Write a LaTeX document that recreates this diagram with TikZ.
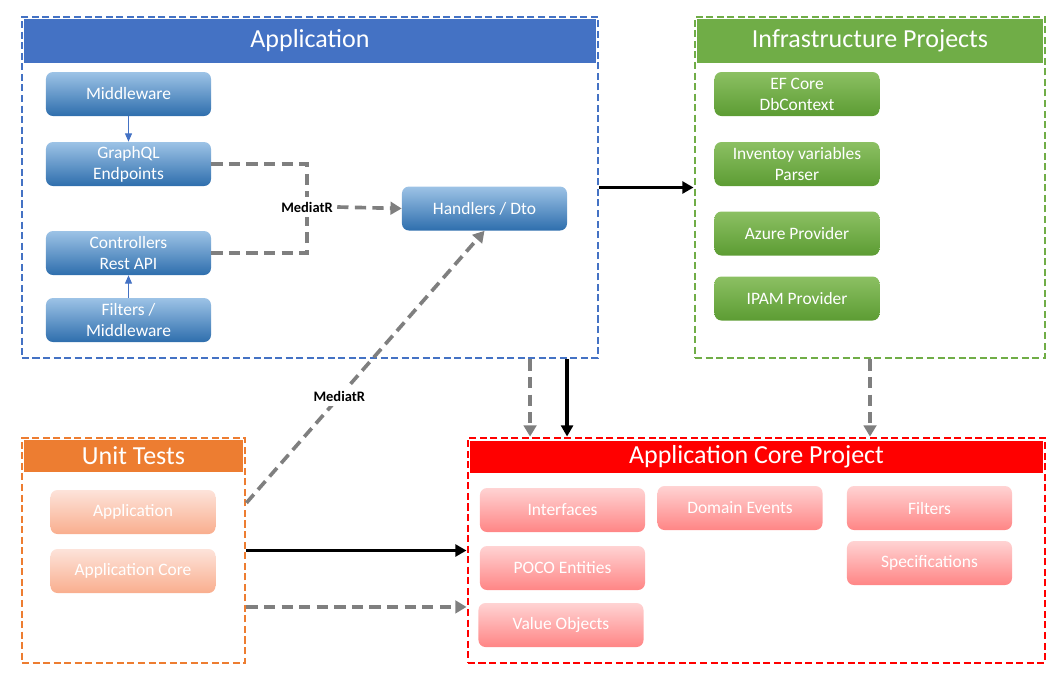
\documentclass[tikz,border=0pt]{standalone}
\usepackage{fontspec}
\setmainfont{Carlito}
\usetikzlibrary{arrows.meta, positioning}

\definecolor{appblue}{HTML}{4472C4}
\definecolor{bluetop}{HTML}{9DC3E6}
\definecolor{bluebot}{HTML}{2E6EAD}
\definecolor{infgreen}{HTML}{70AD47}
\definecolor{greentop}{HTML}{8CC063}
\definecolor{greenbot}{HTML}{5C9C33}
\definecolor{utorange}{HTML}{ED7D31}
\definecolor{peachtop}{HTML}{FDE3DA}
\definecolor{peachbot}{HTML}{F9AE8E}
\definecolor{corered}{HTML}{FF0000}
\definecolor{pinktop}{HTML}{FFD3D3}
\definecolor{pinkbot}{HTML}{FF8585}
\definecolor{linkgray}{HTML}{7F7F7F}

\begin{document}
\begin{tikzpicture}[x=0.025cm, y=-0.025cm,
    % Styles for frames, header bars and boxes
    frame/.style={rectangle, dash pattern=on 5pt off 2.5pt, line width=2pt, inner sep=0pt},
    headbar/.style={rectangle, inner sep=0pt, text=white, font=\fontsize{18.5}{21}\selectfont},
    box/.style={rectangle, rounded corners=5pt, align=center, text=white, minimum width=4.125cm, minimum height=1.1cm, inner sep=1pt, font=\fontsize{12.4}{14.8}\selectfont},
    bluebox/.style={box, top color=bluetop, bottom color=bluebot},
    greenbox/.style={box, top color=greentop, bottom color=greenbot},
    peachbox/.style={box, top color=peachtop, bottom color=peachbot},
    pinkbox/.style={box, top color=pinktop, bottom color=pinkbot},
    medlabel/.style={fill=white, inner sep=3pt, font=\fontsize{10.3}{12}\selectfont\bfseries},
    thinarrow/.style={draw=appblue, line width=0.8pt, -{Triangle[length=6pt, width=5pt]}},
    graylink/.style={draw=linkgray, line width=2.6pt, dash pattern=on 8pt off 4.5pt},
    grayarrow/.style={graylink, -{Triangle[length=8pt, width=9pt]}},
    blackarrow/.style={draw=black, line width=2.4pt, -{Triangle[length=8pt, width=8.5pt]}}
]
\useasboundingbox (0,0) rectangle (1059,680);

% Application
\node[frame, draw=appblue, minimum width=14.4cm, minimum height=8.525cm] (app) at (310,187.5) {};
\node[headbar, fill=appblue, minimum width=14.3cm, minimum height=1.1cm] (apphead) at (310,41) {Application};
\node[bluebox] (mw)   at (128.5,94)  {Middleware};
\node[bluebox] (gql)  at (128.5,164) {GraphQL\\Endpoints};
\node[bluebox] (ctrl) at (128.5,253) {Controllers\\Rest API};
\node[bluebox] (filt) at (128.5,320) {Filters /\\Middleware};
\node[bluebox] (hand) at (484.5,208.5) {Handlers / Dto};

% Infrastructure Projects
\node[frame, draw=infgreen, minimum width=8.75cm, minimum height=8.525cm] (infra) at (870,187.5) {};
\node[headbar, fill=infgreen, minimum width=8.65cm, minimum height=1.1cm] (infhead) at (870,41) {Infrastructure Projects};
\node[greenbox] (ef)    at (797,94)    {EF Core\\DbContext};
\node[greenbox] (inv)   at (797,164)   {Inventoy variables\\Parser};
\node[greenbox] (azure) at (797,233.5) {Azure Provider};
\node[greenbox] (ipam)  at (797,298.5) {IPAM Provider};

% Unit Tests
\node[frame, draw=utorange, minimum width=5.575cm, minimum height=5.625cm] (ut) at (133.5,550.5) {};
\node[headbar, fill=utorange, minimum width=5.475cm, minimum height=0.8cm] (uthead) at (133.5,456) {Unit Tests};
\node[peachbox] (uta)  at (133,512) {Application};
\node[peachbox] (utac) at (133,571) {Application Core};

% Application Core Project
\node[frame, draw=corered, minimum width=14.425cm, minimum height=5.625cm] (core) at (756.5,550.5) {};
\node[headbar, fill=corered, minimum width=14.325cm, minimum height=0.8cm] (corehead) at (756.5,457) {Application Core Project};
\node[pinkbox] (intf) at (562.5,510) {Interfaces};
\node[pinkbox] (poco) at (562.5,568) {POCO Entities};
\node[pinkbox] (vobj) at (561,625)   {Value Objects};
\node[pinkbox] (devt) at (740,508)   {Domain Events};
\node[pinkbox] (cflt) at (929.5,508) {Filters};
\node[pinkbox] (spec) at (929.5,563) {Specifications};

% Inside Application
\draw[thinarrow] (mw) -- (gql);
\draw[thinarrow] (filt) -- (ctrl);
\node[medlabel] (medapp) at (307,207) {MediatR};
\draw[graylink] (gql.east) -| (medapp.north);
\draw[graylink] (ctrl.east) -| (medapp.south);
\draw[grayarrow] (medapp.east) -- (hand.west);

% Unit Tests to Handlers
\coordinate (utout1) at ([yshift=1.19cm]ut.east);
\draw[grayarrow] (utout1) -- node[medlabel, pos=0.39] (medut) {MediatR} (hand.south);

% Between the projects
\draw[blackarrow] (app.east) -- (infra.west);
\coordinate (appout1) at ([xshift=5.5cm]app.south);
\coordinate (appout2) at ([xshift=6.425cm]app.south);
\draw[grayarrow] (appout1) -- (appout1 |- core.north);
\draw[blackarrow] (appout2) -- (appout2 |- core.north);
\draw[grayarrow] (infra.south) -- (infra.south |- core.north);
\draw[blackarrow] (ut.east) -- (core.west);
\coordinate (utout2) at ([yshift=-1.41cm]ut.east);
\draw[grayarrow] (utout2) -- (utout2 -| core.west);

\end{tikzpicture}
\end{document}
